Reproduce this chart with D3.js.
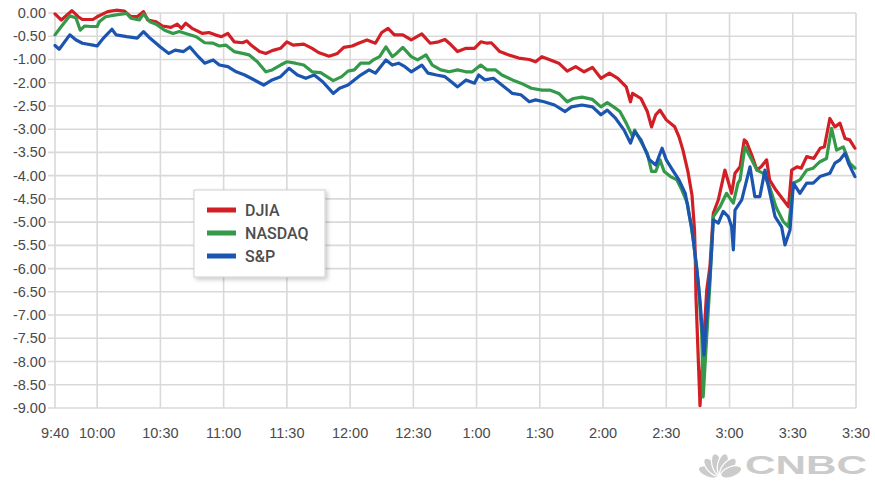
<!DOCTYPE html>
<html>
<head>
<meta charset="utf-8">
<script src="https://cdn.jsdelivr.net/npm/d3@7/dist/d3.min.js"></script>
<style>
  html, body { margin: 0; padding: 0; background: #fff; }
  svg { display: block; }
</style>
</head>
<body>
<svg id="chart" width="875" height="481"></svg>
<script>
// Intraday percent change of the three US indexes, one row per reading: [clock time, % change]
const djia = [
  ["09:40",-0.02],["09:43",-0.15],["09:48",0.05],["09:51",-0.08],["09:53",-0.14],["09:58",-0.14],
  ["10:00",-0.08],["10:05",0.03],["10:09",0.06],["10:13",0.04],["10:16",-0.08],["10:19",-0.08],
  ["10:22",0.03],["10:24",-0.15],["10:28",-0.19],["10:31",-0.28],["10:35",-0.31],["10:38",-0.24],
  ["10:40",-0.33],["10:42",-0.22],["10:45",-0.33],["10:50",-0.44],["10:53",-0.42],["10:56",-0.47],
  ["10:59",-0.51],["11:02",-0.44],["11:05",-0.62],["11:09",-0.64],["11:11",-0.60],["11:13",-0.69],
  ["11:17",-0.83],["11:20",-0.87],["11:23",-0.81],["11:27",-0.76],["11:30",-0.62],["11:33",-0.69],
  ["11:38",-0.67],["11:42",-0.76],["11:45",-0.85],["11:50",-0.93],["11:54",-0.87],["11:57",-0.74],
  ["12:01",-0.71],["12:04",-0.65],["12:08",-0.58],["12:12",-0.65],["12:15",-0.42],["12:18",-0.33],
  ["12:21",-0.47],["12:25",-0.47],["12:29",-0.58],["12:34",-0.45],["12:38",-0.65],["12:42",-0.62],
  ["12:45",-0.57],["12:48",-0.69],["12:51",-0.83],["12:55",-0.76],["12:59",-0.76],["13:02",-0.62],
  ["13:05",-0.65],["13:07",-0.64],["13:11",-0.83],["13:15",-0.90],["13:20",-0.97],["13:25",-1.00],
  ["13:28",-1.10],["13:31",-0.94],["13:35",-1.02],["13:39",-1.16],["13:43",-1.50],["13:47",-1.31],
  ["13:51",-1.53],["13:55",-1.34],["13:59",-1.81],["14:03",-1.59],["14:07",-1.81],["14:11",-2.09],
  ["14:13",-2.41],["14:14",-2.23],["14:18",-2.34],["14:21",-2.62],["14:23",-2.95],["14:25",-2.69],
  ["14:27",-2.59],["14:30",-2.80],["14:34",-2.95],["14:36",-3.16],["14:37:54",-3.45],["14:40:18",-3.92],
  ["14:42:12",-4.42],["14:43:24",-5.17],["14:43:48",-5.86],["14:44:06",-6.63],["14:46",-8.95],
  ["14:47:30",-7.75],["14:49:12",-6.46],["14:50:42",-5.96],["14:52:18",-4.81],["14:54:42",-4.52],
  ["14:57:48",-3.88],["15:01",-4.38],["15:02:36",-3.95],["15:05",-3.81],["15:07",-3.23],["15:08",-3.27],
  ["15:10:30",-3.55],["15:13",-3.88],["15:15",-3.81],["15:17:36",-3.66],["15:19",-4.09],["15:22",-4.31],
  ["15:25:30",-4.52],["15:28",-4.67],["15:29:30",-3.88],["15:32",-3.81],["15:34",-3.84],["15:36:36",-3.59],
  ["15:40",-3.63],["15:43",-3.41],["15:45",-3.38],["15:47:36",-2.77],["15:50",-2.95],["15:52:24",-2.87],
  ["15:54:48",-3.20],["15:57",-3.23],["15:59:30",-3.41]
];

const nasdaq = [
  ["09:40",-0.47],["09:43",-0.29],["09:47",-0.06],["09:50",-0.11],["09:52",-0.37],["09:54",-0.28],
  ["09:57",-0.29],["10:00",-0.29],["10:01",-0.19],["10:04",-0.08],["10:09",-0.04],["10:14",-0.01],
  ["10:16",-0.11],["10:20",-0.15],["10:22",-0.02],["10:25",-0.19],["10:28",-0.24],["10:32",-0.37],
  ["10:36",-0.44],["10:39",-0.40],["10:42",-0.44],["10:47",-0.51],["10:51",-0.64],["10:55",-0.65],
  ["10:58",-0.71],["11:01",-0.69],["11:05",-0.83],["11:09",-0.87],["11:12",-0.90],["11:16",-1.10],
  ["11:20",-1.53],["11:23",-1.45],["11:27",-1.24],["11:30",-1.10],["11:34",-1.16],["11:38",-1.24],
  ["11:42",-1.53],["11:46",-1.57],["11:52",-1.91],["11:56",-1.74],["11:59",-1.50],["12:02",-1.45],
  ["12:05",-1.16],["12:09",-1.16],["12:11",-1.02],["12:14",-0.94],["12:17",-0.73],["12:20",-0.94],
  ["12:22",-0.87],["12:25",-0.74],["12:29",-0.94],["12:32",-1.02],["12:36",-0.90],["12:39",-1.24],
  ["12:43",-1.45],["12:47",-1.53],["12:51",-1.45],["12:55",-1.53],["12:58",-1.53],["13:02",-1.24],
  ["13:05",-1.45],["13:09",-1.45],["13:12",-1.67],["13:17",-1.88],["13:21",-2.01],["13:26",-2.12],
  ["13:31",-2.16],["13:35",-2.16],["13:39",-2.23],["13:43",-2.41],["13:46",-2.34],["13:50",-2.31],
  ["13:55",-2.36],["13:59",-2.52],["14:02",-2.43],["14:05",-2.52],["14:08",-2.62],["14:11",-2.87],
  ["14:14",-3.16],["14:15",-3.02],["14:18",-3.27],["14:21",-3.52],["14:23",-3.91],["14:25",-3.91],
  ["14:27",-3.66],["14:29",-3.91],["14:32",-4.02],["14:35",-4.09],["14:37",-4.27],["14:40",-4.59],
  ["14:42:48",-5.38],["14:45:12",-6.32],["14:46:48",-7.39],["14:47:30",-8.76],["14:48:48",-7.75],
  ["14:50:42",-6.32],["14:52:18",-4.88],["14:55:30",-4.67],["14:58:36",-4.38],["15:01:48",-4.59],
  ["15:04",-4.16],["15:05",-4.09],["15:07:18",-3.38],["15:09:42",-3.59],["15:13",-3.88],["15:16",-3.95],
  ["15:19",-4.24],["15:22",-4.67],["15:25:30",-4.99],["15:28",-5.10],["15:30:18",-4.16],["15:33:24",-4.09],
  ["15:36:36",-3.88],["15:39:42",-3.84],["15:42:54",-3.70],["15:46",-3.63],["15:48:24",-2.98],
  ["15:50:48",-3.45],["15:54",-3.38],["15:57",-3.73],["15:59:30",-3.84]
];

const sp = [
  ["09:40",-0.70],["09:42",-0.78],["09:47",-0.47],["09:50",-0.58],["09:53",-0.65],["09:58",-0.69],
  ["10:00",-0.71],["10:03",-0.54],["10:07",-0.35],["10:09",-0.47],["10:14",-0.51],["10:19",-0.54],
  ["10:22",-0.40],["10:25",-0.54],["10:30",-0.73],["10:34",-0.87],["10:37",-0.80],["10:41",-0.83],
  ["10:44",-0.73],["10:48",-0.94],["10:51",-1.16],["10:55",-1.02],["10:58",-1.24],["11:02",-1.31],
  ["11:06",-1.53],["11:10",-1.67],["11:13",-1.81],["11:19",-2.05],["11:23",-1.88],["11:27",-1.74],
  ["11:31",-1.38],["11:35",-1.67],["11:39",-1.81],["11:43",-1.67],["11:47",-1.96],["11:52",-2.23],
  ["11:55",-2.12],["11:59",-2.05],["12:02",-1.88],["12:05",-1.67],["12:09",-1.45],["12:12",-1.59],
  ["12:17",-1.02],["12:20",-1.24],["12:23",-1.16],["12:26",-1.31],["12:29",-1.53],["12:34",-1.24],
  ["12:37",-1.59],["12:41",-1.67],["12:45",-1.74],["12:48",-1.96],["12:51",-2.09],["12:55",-1.88],
  ["12:59",-2.01],["13:01",-1.67],["13:04",-1.88],["13:08",-1.81],["13:12",-2.05],["13:17",-2.23],
  ["13:21",-2.26],["13:25",-2.41],["13:28",-2.37],["13:32",-2.41],["13:37",-2.48],["13:42",-2.62],
  ["13:45",-2.52],["13:50",-2.48],["13:55",-2.52],["13:59",-2.69],["14:02",-2.59],["14:06",-2.77],
  ["14:10",-3.02],["14:13",-3.30],["14:15",-3.05],["14:18",-3.23],["14:22",-3.66],["14:25",-3.77],
  ["14:28",-3.41],["14:30",-3.66],["14:33",-3.88],["14:36",-4.09],["14:39",-4.38],["14:41",-4.88],
  ["14:42",-5.10],["14:44:24",-5.96],["14:46",-6.68],["14:46:48",-7.18],["14:47:54",-7.86],
  ["14:49:12",-7.03],["14:50:42",-6.17],["14:51:30",-5.60],["14:52:18",-4.95],["14:54:42",-5.02],
  ["14:57",-4.77],["14:59:24",-4.88],["15:01",-5.10],["15:01:48",-5.60],["15:02:36",-4.74],
  ["15:05:48",-4.52],["15:09:42",-3.81],["15:12",-4.45],["15:14:24",-4.45],["15:16:48",-3.88],
  ["15:19:12",-4.38],["15:21:36",-4.88],["15:24:42",-5.10],["15:26:18",-5.49],["15:28:42",-5.17],
  ["15:30:18",-4.16],["15:33:24",-4.38],["15:36:36",-4.16],["15:39:42",-4.16],["15:42:54",-4.02],
  ["15:47:36",-3.95],["15:50",-3.73],["15:52:24",-3.66],["15:54:48",-3.52],["15:56:24",-3.73],
  ["15:59:30",-4.02]
];

const seriesNames = ["DJIA", "NASDAQ", "S&P"];

// Axis ticks as printed on the chart
const xTickTimes  = ["09:40","10:00","10:30","11:00","11:30","12:00","12:30","13:00","13:30","14:00","14:30","15:00","15:30","16:00"];
const xTickLabels = ["9:40","10:00","10:30","11:00","11:30","12:00","12:30","1:00","1:30","2:00","2:30","3:00","3:30","3:30"];
const yTickValues = [0,-0.5,-1,-2,-2.5,-3,-3.5,-4,-4.5,-5,-5.5,-6,-6.5,-7,-7.5,-8,-8.5,-9];
const yTickLabels = ["0.00","-0.50","-1.00","-2.00","-2.50","-3.00","-3.50","-4.00","-4.50","-5.00","-5.50","-6.00","-6.50","-7.00","-7.50","-8.00","-8.50","-9.00"];

// ---- layout & style
const W = 875, H = 481;
const plot = { left: 55, right: 856, top: 13, bottom: 408 };
const colors = ["#d21f26", "#35994a", "#1c55b0"];
const gridColor = "#d9d9d9";
const textColor = "#4a4a4a";

const parseTime = s => d3.timeParse("%H:%M:%S")(s) || d3.timeParse("%H:%M")(s);

const x = d3.scaleTime()
  .domain([parseTime(xTickTimes[0]), parseTime(xTickTimes[xTickTimes.length - 1])])
  .range([plot.left, plot.right]);

// The printed grid steps evenly through the tick list (which skips -1.50),
// so the value axis is piecewise linear between the listed ticks.
const y = d3.scaleLinear()
  .domain(yTickValues)
  .range(yTickValues.map((_, i) => plot.top + i * (plot.bottom - plot.top) / (yTickValues.length - 1)));

const svg = d3.select("#chart");
svg.append("rect").attr("width", W).attr("height", H).attr("fill", "#fff");

const defs = svg.append("defs");
const sh = defs.append("filter").attr("id", "shadow")
  .attr("x", "-10%").attr("y", "-10%").attr("width", "130%").attr("height", "130%");
sh.append("feDropShadow").attr("dx", 2).attr("dy", 2).attr("stdDeviation", 2)
  .attr("flood-color", "#000").attr("flood-opacity", 0.22);

// ---- grid
const grid = svg.append("g");
grid.selectAll("line.h").data(yTickValues).join("line")
  .attr("x1", plot.left - 7).attr("x2", plot.right)
  .attr("y1", d => y(d)).attr("y2", d => y(d))
  .attr("stroke", gridColor).attr("stroke-width", 1.6);
grid.selectAll("line.v").data(xTickTimes).join("line")
  .attr("x1", d => x(parseTime(d))).attr("x2", d => x(parseTime(d)))
  .attr("y1", plot.top).attr("y2", plot.bottom)
  .attr("stroke", gridColor).attr("stroke-width", 1.6);

// ---- axis labels
svg.append("g").selectAll("text").data(yTickValues).join("text")
  .attr("x", plot.left - 9).attr("y", d => y(d))
  .attr("text-anchor", "end").attr("dominant-baseline", "central")
  .attr("font-family", "'Liberation Sans', Arial, sans-serif").attr("font-size", 14.5)
  .attr("fill", textColor)
  .text((d, i) => yTickLabels[i]);

svg.append("g").selectAll("text").data(xTickTimes).join("text")
  .attr("x", d => x(parseTime(d))).attr("y", 438)
  .attr("text-anchor", "middle")
  .attr("font-family", "'Liberation Sans', Arial, sans-serif").attr("font-size", 14.5)
  .attr("fill", textColor)
  .text((d, i) => xTickLabels[i]);

// ---- index lines
const line = d3.line()
  .x(d => x(parseTime(d[0])))
  .y(d => y(d[1]));

[djia, nasdaq, sp].forEach((series, i) => {
  svg.append("path")
    .datum(series)
    .attr("d", line)
    .attr("fill", "none")
    .attr("stroke", colors[i])
    .attr("stroke-width", 3.2)
    .attr("stroke-linejoin", "round")
    .attr("stroke-linecap", "round");
});

// ---- legend
const lg = svg.append("g").attr("transform", "translate(194,190)");
lg.append("rect").attr("width", 131).attr("height", 87)
  .attr("fill", "#fff").attr("stroke", "#cfcfcf").attr("filter", "url(#shadow)");
seriesNames.forEach((name, i) => {
  const cy = 20 + i * 23;
  lg.append("line").attr("x1", 13).attr("x2", 42).attr("y1", cy).attr("y2", cy)
    .attr("stroke", colors[i]).attr("stroke-width", 5);
  lg.append("text").attr("x", 51).attr("y", cy).attr("dominant-baseline", "central")
    .attr("font-family", "Roboto, 'Liberation Sans', sans-serif").attr("font-size", 16)
    .attr("font-weight", 500).attr("fill", "#4d4d4d")
    .text(name);
});

// ---- network mark, bottom right
const logo = svg.append("g").attr("fill", "#cbcbcb");
const fan = logo.append("g").attr("transform", "translate(720,476)");
[-70, -42, -14, 14, 42, 70].forEach(a => {
  fan.append("ellipse")
    .attr("cx", 0).attr("cy", -12).attr("rx", 5.2).attr("ry", 11)
    .attr("transform", `rotate(${a})`)
    .attr("stroke", "#fff").attr("stroke-width", 1.2);
});
logo.append("text").attr("x", 745).attr("y", 474)
  .attr("font-family", "'Liberation Sans', Arial, sans-serif").attr("font-size", 26)
  .attr("font-weight", 700)
  .attr("textLength", 122).attr("lengthAdjust", "spacingAndGlyphs")
  .text("CNBC");
</script>
</body>
</html>
